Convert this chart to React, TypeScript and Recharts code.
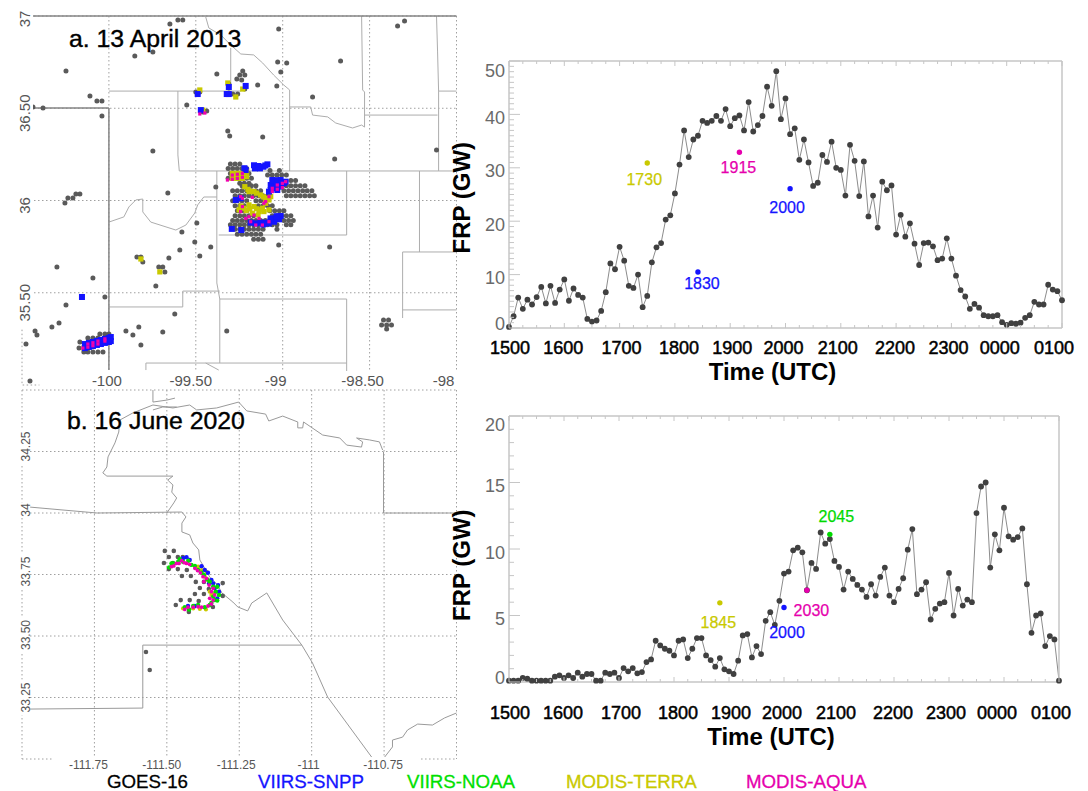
import {
  CartesianGrid,
  ComposedChart,
  Line,
  Scatter,
  ScatterChart,
  XAxis,
  YAxis,
} from "recharts";

// =============================================================================
// Time series (5 minute steps from 1500 UTC)
// =============================================================================

const frp2013 = [
  0.2, 2.2, 5.7, 3.6, 5.3, 4.4, 5.8, 7.7, 4.6, 7.9, 4.7, 7.2, 9.1, 5.1, 7.4, 6.2, 5.7, 1.7, 1.2, 1.4,
  3.2, 6.7, 12.1, 11.0, 15.2, 12.6, 7.9, 7.5, 10.0, 3.9, 6.0, 12.3, 15.1, 15.9, 20.3, 21.1, 25.2, 30.6, 37.0, 32.0,
  35.3, 36.0, 38.8, 38.4, 38.8, 39.7, 38.8, 41.0, 37.8, 39.3, 39.8, 37.0, 42.3, 36.8, 38.0, 39.7, 45.2, 41.6, 48.1, 39.1,
  43.0, 36.3, 37.4, 31.5, 35.3, 31.0, 26.6, 27.2, 32.4, 31.1, 34.9, 30.0, 29.6, 24.8, 34.3, 31.3, 24.7, 31.2, 20.9, 24.8,
  18.8, 27.4, 25.8, 26.7, 17.5, 21.2, 17.1, 19.6, 15.8, 11.8, 15.9, 16.0, 15.3, 12.7, 13.0, 16.8, 13.0, 9.8, 7.1, 5.9,
  3.6, 4.5, 3.8, 2.4, 2.2, 2.2, 2.4, 1.1, 0.6, 0.9, 0.8, 1.0, 1.9, 2.4, 4.9, 4.4, 4.4, 8.1, 7.2, 6.9, 5.2,
];

const frp2020 = [
  0.1, 0.1, 0.1, 0.3, 0.25, 0.1, 0.1, 0.1, 0.1, 0.1, 0.4, 0.5, 0.3, 0.5, 0.3, 0.7, 0.4, 0.6, 0.6, 0.1,
  0.1, 0.7, 0.6, 0.7, 0.3, 1.05, 0.8, 1.05, 0.65, 0.75, 1.5, 1.7, 3.1, 2.75, 2.5, 2.35, 2.0, 3.1, 3.2, 1.8,
  2.5, 3.3, 3.3, 2.0, 1.65, 1.15, 1.8, 0.95, 0.8, 0.6, 1.6, 3.5, 3.6, 1.85, 2.7, 2.1, 4.6, 5.25, 4.3, 6.1,
  8.15, 8.3, 9.9, 10.1, 9.75, 6.9, 8.95, 8.5, 11.25, 10.4, 10.75, 9.1, 8.65, 6.95, 8.3, 7.75, 7.3, 6.95, 6.4, 7.35,
  6.5, 7.9, 8.6, 6.5, 6.0, 7.0, 7.8, 9.95, 11.5, 6.6, 6.95, 7.5, 4.7, 5.5, 5.9, 6.0, 8.2, 5.0, 7.0, 5.75,
  6.2, 6.0, 12.7, 14.7, 15.0, 8.6, 11.1, 9.9, 13.1, 10.95, 10.7, 10.9, 11.55, 7.35, 3.7, 5.0, 5.15, 2.7, 3.45, 3.2, 0.1,
];

const hourLabels = ["1500", "1600", "1700", "1800", "1900", "2000", "2100", "2200", "2300", "0000", "0100"];
const quarterTicks = Array.from({ length: 41 }, (_, i) => i * 15);

// satellite overpass readings: minutes after 1500, FRP, label
const overpass2013 = [
  { minute: 150, frp: 30.9, label: "1730", color: "#c9c900", dx: -3, dy: 22 },
  { minute: 205, frp: 10.5, label: "1830", color: "#1414ff", dx: 4, dy: 17 },
  { minute: 250, frp: 32.9, label: "1915", color: "#e600ad", dx: -1, dy: 21 },
  { minute: 305, frp: 26.1, label: "2000", color: "#1414ff", dx: -3, dy: 24 },
];
const overpass2020 = [
  { minute: 230, frp: 5.95, label: "1845", color: "#c9c900", dx: -1.5, dy: 25 },
  { minute: 300, frp: 5.6, label: "2000", color: "#1414ff", dx: 3, dy: 30 },
  { minute: 325, frp: 6.9, label: "2030", color: "#e600ad", dx: 4.5, dy: 26 },
  { minute: 350, frp: 11.1, label: "2045", color: "#00d900", dx: 6.5, dy: -12 },
];

const labelsOffset2013: Record<number, number> = { 50: 9, 40: 3, 30: 3, 20: 3, 10: 3, 0: -5 };
const labelsOffset2020: Record<number, number> = { 20: 8, 15: 3, 10: 3, 5: 3, 0: -5 };
const hourLabelShift = [1, -1, 2, 4, 2, -2, -3, -1, -3, -7, -8];

// =============================================================================
// Map a: 13 April 2013 (lon, lat)
// =============================================================================

const stateLinesA = [
  [[-100.448, 37], [-98, 37]],
  [[-100.448, 36.501], [-100, 36.501]],
  [[-100, 36.501], [-100, 35.081]],
];

const countyLinesA = [
  [[-100, 36.593], [-99.241, 36.593]],
  [[-99.299, 36.827], [-99.299, 36.61]],
  [[-99.603, 36.593], [-99.603, 36.247], [-99.595, 36.16], [-98, 36.16]],
  [[-99.379, 36.16], [-99.379, 35.553], [-99.362, 35.466], [-99.362, 35.119]],
  [[-99.368, 35.813], [-98.632, 35.813]],
  [[-98.632, 36.16], [-98.632, 35.813]],
  [[-98.632, 35.466], [-98.632, 35.02]],
  [[-98.213, 36.16], [-98.213, 35.721]],
  [[-98.31, 35.721], [-98, 35.721]],
  [[-98.31, 35.721], [-98.31, 35.363]],
  [[-98.31, 35.407], [-98, 35.407]],
  [[-100, 35.423], [-99.575, 35.423], [-99.575, 35.509], [-99.362, 35.509]],
  [[-99.362, 35.466], [-98.632, 35.466]],
  [[-99.787, 35.081], [-99.787, 35.119], [-98.632, 35.119]],
  [[-99.443, 36.995], [-99.425, 36.935], [-99.356, 36.897], [-99.299, 36.843], [-99.241, 36.794], [-99.167, 36.789], [-99.115, 36.745], [-99.052, 36.68], [-98.994, 36.626], [-98.96, 36.599], [-98.96, 36.16]],
  [[-98.96, 36.507], [-98.839, 36.507], [-98.828, 36.463], [-98.741, 36.453], [-98.695, 36.42], [-98.598, 36.393], [-98.546, 36.409], [-98.529, 36.398]],
  [[-98.546, 37], [-98.54, 36.599], [-98.529, 36.588], [-98.529, 36.398]],
  [[-98.529, 36.463], [-98.109, 36.463]],
  [[-98.115, 37], [-98.109, 36.81], [-98.103, 36.593], [-98.103, 36.16]],
  [[-98.103, 36.593], [-98, 36.593]],
  [[-100, 35.883], [-99.914, 35.911], [-99.885, 35.965], [-99.845, 36.003], [-99.805, 36.008], [-99.805, 35.938], [-99.759, 35.883], [-99.615, 35.84], [-99.557, 35.867], [-99.506, 35.932], [-99.489, 35.976], [-99.454, 36.019], [-99.379, 36.019]],
  [[-99.443, 35.119], [-99.368, 35.081]],
];

const frameCornerA = [[-100.5, 35.3], [-100.5, 35], [-100.4, 35]];

const goesSinglesA = [
  [-99.649, 36.957], [-99.603, 36.978], [-99.575, 36.978], [-99.747, 36.805], [-99.851, 36.783], [-100.247, 36.702],
  [-100.109, 36.566], [-100.069, 36.539], [-100.04, 36.539], [-100.437, 36.507], [-100.379, 36.501], [-100.04, 36.458],
  [-99.552, 36.518], [-99.379, 36.686], [-99.747, 36.268], [-99.316, 36.377], [-99.305, 36.35], [-99.385, 36.073],
  [-99.661, 36.041], [-100.167, 36.035], [-100.19, 36.035], [-100.236, 36.014], [-100.207, 36.014], [-99.5, 36.588],
  [-99.477, 36.588], [-99.46, 36.48], [-99.437, 36.485], [-99.31, 36.631], [-99.264, 36.659], [-99.247, 36.68],
  [-99.31, 36.583], [-99.287, 36.577], [-99.259, 36.577], [-99.23, 36.702], [-99.218, 36.68], [-99.236, 36.653],
  [-99.218, 36.604], [-99.023, 36.93], [-99.029, 36.751], [-98.977, 36.745], [-99.011, 36.696], [-98.667, 36.756],
  [-99.144, 36.626], [-99.034, 36.621], [-98.828, 36.561], [-99.115, 36.344], [-98.701, 36.225], [-98.115, 36.274],
  [-98.339, 36.946], [-98.299, 36.973], [-100.253, 35.986], [-100.299, 35.64], [-100.092, 35.58], [-100.023, 35.477],
  [-100.247, 35.434], [-100.287, 35.336], [-100.328, 35.314], [-100.425, 35.293], [-100.414, 35.271], [-100.477, 35.222],
  [-100.454, 35.022], [-99.902, 35.293], [-99.828, 35.314], [-99.862, 35.271], [-99.816, 35.217], [-99.69, 35.287],
  [-99.621, 35.385], [-99.322, 35.293], [-99.839, 35.694], [-99.816, 35.694], [-99.805, 35.667], [-99.713, 35.64],
  [-99.69, 35.64], [-99.678, 35.613], [-99.73, 35.537], [-99.655, 35.688], [-99.592, 35.732], [-99.506, 35.775],
  [-99.477, 35.699], [-99.414, 35.748], [-99.58, 35.829], [-99.494, 35.878], [-100.155, 35.477], [-99.023, 35.759],
  [-98.73, 35.748], [-98.42, 35.352], [-98.391, 35.352], [-98.431, 35.325], [-98.402, 35.325], [-98.374, 35.325], [-98.402, 35.304],
];

// fire pixels of the big complexes, row by row: [lat, lons]
const goesRowsA: [number, number[]][] = [
  [36.198, [-99.301, -99.274, -99.247]],
  [36.174, [-99.314, -99.288, -99.261, -99.234, -99.207]],
  [36.162, [-99.073, -99.019]],
  [36.147, [-99.301, -99.274, -99.247, -99.221, -99.194]],
  [36.138, [-99.087, -99.06, -99.033, -99.006, -98.979]],
  [36.12, [-99.314, -99.288, -99.261, -99.234, -99.207, -99.18]],
  [36.108, [-98.953, -98.926]],
  [36.093, [-99.247, -99.221, -99.194]],
  [36.08, [-99.234, -99.207, -99.18, -99.154, -98.979, -98.953, -98.926, -98.899, -98.872]],
  [36.053, [-99.288, -99.261, -99.234, -99.207, -99.18, -99.154, -99.127, -98.993, -98.966, -98.939, -98.912, -98.885, -98.859, -98.832]],
  [36.026, [-99.274, -99.247, -99.221, -99.194, -99.167, -99.14, -99.113, -99.087, -98.979, -98.953, -98.926, -98.899, -98.872, -98.845, -98.818]],
  [35.999, [-99.288, -99.261, -99.234, -99.207, -99.154, -99.127, -99.1]],
  [35.972, [-99.274, -99.247, -99.221, -99.14, -99.113, -99.087, -99.06]],
  [35.945, [-99.261, -99.234, -99.207, -99.073, -99.046, -99.019, -98.993]],
  [35.918, [-99.274, -99.247, -99.221, -99.194, -99.167, -99.06, -99.033, -99.006, -98.979, -98.953]],
  [35.891, [-99.288, -99.261, -99.234, -99.207, -99.18, -99.154, -99.127, -99.1, -98.993, -98.966, -98.939]],
  [35.869, [-99.301, -99.274, -99.247, -99.221, -99.194, -99.167, -99.14, -99.087, -99.06, -99.033, -98.979, -98.953]],
  [35.844, [-99.274, -99.247, -99.221, -99.194, -99.167, -99.14, -99.113, -99.033]],
  [35.817, [-99.261, -99.234, -99.207, -99.18, -99.154, -99.127]],
  [35.79, [-99.167, -99.14, -99.113]],
  [35.276, [-100.052, -100.023, -100]],
  [35.255, [-100.121, -100.092, -100.063]],
  [35.233, [-100.167]],
  [35.201, [-100.172]],
  [35.179, [-100.144, -100.121, -100.092, -100.063, -100.034]],
];

const yellowA = [
  [-99.29, 36.147], [-99.261, 36.147], [-99.232, 36.147], [-99.207, 36.156], [-99.29, 36.12], [-99.261, 36.12], [-99.232, 36.12], [-99.207, 36.129],
  [-99.275, 36.134], [-99.246, 36.134], [-99.22, 36.14], [-99.218, 36.075], [-99.2, 36.06], [-99.18, 36.05], [-99.15, 36.04], [-99.11, 36.02],
  [-99.194, 36.048], [-99.165, 36.048], [-99.127, 36.03], [-99.098, 35.985], [-99.079, 36.003], [-99.069, 36.021], [-99.251, 35.949], [-99.223, 35.958],
  [-99.194, 35.976], [-99.165, 35.967], [-99.136, 35.94], [-99.108, 35.94], [-99.079, 35.949], [-99.117, 35.958], [-99.175, 35.931], [-99.142, 35.921], [-99.098, 36.012],
  [-99.15, 35.955], [-99.125, 35.95], [-99.24, 35.97], [-99.21, 35.945], [-99.19, 35.955],
  [-99.477, 36.599], [-99.46, 36.49], [-99.316, 36.637], [-99.27, 36.561], [-99.23, 36.604], [-99.816, 35.683], [-99.707, 35.613], [-100.144, 35.2],
];

const blueA = [
  [-99.165, 36.191], [-99.15, 36.18], [-99.131, 36.174], [-99.111, 36.183], [-99.088, 36.196], [-99.16, 36.174], [-99.14, 36.187], [-99.1, 36.19],
  [-99.069, 36.057], [-99.046, 36.066], [-99.021, 36.075], [-98.993, 36.093], [-99.069, 36.084], [-99.041, 36.102], [-99.012, 36.111], [-98.983, 36.102], [-99.05, 36.093], [-99.031, 36.057], [-99.079, 36.048], [-99.06, 36.111], [-99.021, 36.093], [-99.05, 36.075],
  [-99.03, 36.11], [-99.008, 36.09], [-99.06, 36.07], [-99.035, 36.082],
  [-99.184, 35.88], [-99.155, 35.876], [-99.127, 35.88], [-99.098, 35.88], [-99.069, 35.891], [-99.041, 35.903], [-99.012, 35.916], [-99.021, 35.898], [-99.05, 35.885], [-99.07, 35.903], [-99.035, 35.915], [-99.08, 35.875], [-99.112, 35.87],
  [-99.293, 35.846], [-99.238, 35.84], [-99.27, 36.003], [-99.242, 36.012], [-99.213, 36.165], [-99.22, 36.175],
  [-99.489, 36.577], [-99.471, 36.49], [-99.31, 36.615], [-99.322, 36.577], [-99.31, 36.577], [-99.213, 36.621], [-100.155, 35.477],
  [-100.138, 35.222], [-100.115, 35.228], [-100.092, 35.233], [-100.069, 35.239], [-100.046, 35.244], [-100.023, 35.25], [-100, 35.255], [-99.989, 35.26],
  [-100.138, 35.2], [-100.115, 35.206], [-100.092, 35.211], [-100.069, 35.217], [-100.046, 35.222], [-100.023, 35.228], [-100, 35.233], [-99.989, 35.238],
];

const magentaA = [
  [-99.29, 36.138], [-99.29, 36.115], [-99.261, 36.142], [-99.261, 36.12], [-99.232, 36.147], [-99.232, 36.126], [-99.318, 36.111],
  [-99.06, 36.066], [-99.06, 36.048], [-99.031, 36.084], [-99.031, 36.061], [-99.002, 36.093], [-99.002, 36.07], [-98.983, 36.102],
  [-99.242, 36.021], [-99.232, 36.012], [-99.175, 36.017], [-99.098, 35.994], [-99.108, 35.985], [-99.079, 36.021],
  [-99.213, 35.903], [-99.194, 35.912], [-99.165, 35.921], [-99.136, 35.903], [-99.184, 35.885], [-99.155, 35.867], [-99.117, 35.867], [-99.079, 35.885], [-99.242, 35.94], [-99.232, 35.967],
  [-99.477, 36.469], [-99.448, 36.474],
  [-100.15, 35.2], [-100.121, 35.205], [-100.121, 35.222], [-100.092, 35.213], [-100.092, 35.229], [-100.063, 35.222], [-100.063, 35.238], [-100.023, 35.238], [-100.023, 35.25],
];

const xTicksA = [-100, -99.5, -99, -98.5, -98];
const yTicksA = [35.5, 36, 36.5, 37];
const xLabelsA = ["-100", "-99.50", "-99", "-98.50", "-98"];
const yLabelsA = ["35.50", "36", "36.50", "37"];
const xShiftA = [-2, -5, -7, -7, -13];
const yShiftA = [10, 5, 5, 3];

// =============================================================================
// Map b: 16 June 2020 (lon, lat)
// =============================================================================

const linesB = [
  [[-111.721, 34.163], [-111.707, 34.187], [-111.703, 34.228], [-111.679, 34.285], [-111.666, 34.329], [-111.662, 34.378], [-111.617, 34.407], [-111.548, 34.439], [-111.479, 34.427], [-111.421, 34.439], [-111.397, 34.419], [-111.328, 34.427], [-111.252, 34.451], [-111.224, 34.415], [-111.159, 34.402], [-111.148, 34.374], [-111.1, 34.394], [-111.048, 34.37], [-111.048, 34.346], [-111.031, 34.346], [-111.028, 34.37], [-110.962, 34.317], [-110.903, 34.305], [-110.879, 34.276], [-110.828, 34.268], [-110.824, 34.289], [-110.845, 34.305], [-110.8, 34.297], [-110.766, 34.289], [-110.755, 34.256]],
  [[-111.548, 34.5], [-111.548, 34.451], [-111.5, 34.459], [-111.472, 34.467]],
  [[-111.548, 34.419], [-111.514, 34.431], [-111.466, 34.431]],
  [[-110.752, 34.248], [-110.752, 34], [-110.5, 34]],
  [[-111.721, 34.163], [-111.707, 34.15], [-111.479, 34.15], [-111.497, 34.134], [-111.479, 34.114], [-111.483, 34.085], [-111.466, 34.061], [-111.476, 34.041], [-111.5, 34]],
  [[-111.972, 34.024], [-111.741, 34], [-111.448, 34.004], [-111.434, 33.984], [-111.448, 33.959], [-111.448, 33.923], [-111.421, 33.911], [-111.41, 33.878], [-111.39, 33.85], [-111.386, 33.809], [-111.376, 33.789], [-111.352, 33.74], [-111.324, 33.707], [-111.31, 33.675], [-111.272, 33.638], [-111.255, 33.618], [-111.221, 33.602], [-111.207, 33.634], [-111.155, 33.675], [-111.1, 33.565], [-111.034, 33.463], [-110.997, 33.39], [-110.945, 33.252], [-110.793, 33.008]],
  [[-111.034, 33.463], [-111.583, 33.463], [-111.583, 33.207], [-111.972, 33.203]],
  [[-110.748, 33.008], [-110.721, 33.049], [-110.721, 33.077], [-110.686, 33.089], [-110.669, 33.118], [-110.634, 33.142], [-110.583, 33.138], [-110.541, 33.167], [-110.5, 33.187]],
];

const frameBitsB = [
  [[-112, 33], [-111.86, 33]],
  [[-110.65, 33], [-110.5, 33]],
];

const goesB = [
  [-111.507, 33.846], [-111.476, 33.846], [-111.493, 33.821], [-111.462, 33.821], [-111.445, 33.821], [-111.51, 33.797],
  [-111.479, 33.797], [-111.493, 33.772], [-111.462, 33.772], [-111.431, 33.768], [-111.448, 33.744], [-111.417, 33.744],
  [-111.4, 33.72], [-111.386, 33.695], [-111.355, 33.691], [-111.372, 33.72], [-111.403, 33.671], [-111.372, 33.671],
  [-111.307, 33.715], [-111.307, 33.663], [-111.452, 33.646], [-111.421, 33.646], [-111.39, 33.642], [-111.469, 33.626],
  [-111.424, 33.598], [-111.341, 33.618], [-111.572, 33.435], [-111.559, 33.362],
];

const greenB = [
  [-111.492, 33.779], [-111.478, 33.795], [-111.461, 33.802], [-111.444, 33.802], [-111.415, 33.789], [-111.392, 33.768], [-111.372, 33.748], [-111.352, 33.721],
  [-111.326, 33.7], [-111.32, 33.667], [-111.335, 33.646], [-111.346, 33.635], [-111.438, 33.617], [-111.409, 33.622], [-111.369, 33.617],
  [-111.484, 33.795], [-111.455, 33.812], [-111.426, 33.806], [-111.403, 33.785], [-111.38, 33.757], [-111.361, 33.73], [-111.34, 33.7], [-111.331, 33.68],
  [-111.34, 33.66], [-111.326, 33.644], [-111.352, 33.626], [-111.392, 33.626], [-111.423, 33.608],
];
const magentaB = [
  [-111.484, 33.782], [-111.467, 33.795], [-111.449, 33.806], [-111.432, 33.795], [-111.403, 33.775], [-111.384, 33.757], [-111.363, 33.734], [-111.372, 33.721],
  [-111.34, 33.694], [-111.335, 33.667], [-111.352, 33.653], [-111.346, 33.63], [-111.427, 33.617], [-111.392, 33.619], [-111.438, 33.608],
  [-111.476, 33.785], [-111.458, 33.795], [-111.44, 33.798], [-111.421, 33.791], [-111.394, 33.766], [-111.375, 33.741], [-111.354, 33.707], [-111.346, 33.68],
  [-111.34, 33.646], [-111.358, 33.622], [-111.409, 33.617], [-111.38, 33.617],
];
const blueB = [
  [-111.432, 33.82], [-111.421, 33.809], [-111.38, 33.784], [-111.358, 33.757], [-111.34, 33.714], [-111.323, 33.707], [-111.427, 33.622], [-111.354, 33.714], [-111.326, 33.653],
  [-111.444, 33.816], [-111.369, 33.768], [-111.346, 33.728], [-111.335, 33.694], [-111.32, 33.68], [-111.403, 33.622],
];
const yellowB = [
  [-111.444, 33.612], [-111.365, 33.608], [-111.38, 33.768], [-111.363, 33.761], [-111.358, 33.728], [-111.352, 33.68], [-111.346, 33.667], [-111.409, 33.612],
  [-111.392, 33.782], [-111.369, 33.741], [-111.34, 33.673], [-111.386, 33.61],
];

const xTicksB = [-111.75, -111.5, -111.25, -111, -110.75];
const yTicksB = [33.25, 33.5, 33.75, 34, 34.25];
const xLabelsB = ["-111.75", "-111.50", "-111.25", "-111", "-110.75"];
const yLabelsB = ["33.25", "33.50", "33.75", "34", "34.25"];
const xShiftB = [-6, -5, -3, -3, -1];
const yShiftB = [0, -1, -3, -3, -5];

const legendItems = [
  { name: "GOES-16", color: "#000000", left: 107 },
  { name: "VIIRS-SNPP", color: "#1414ff", left: 258 },
  { name: "VIIRS-NOAA", color: "#00e000", left: 407 },
  { name: "MODIS-TERRA", color: "#c9c900", left: 566 },
  { name: "MODIS-AQUA", color: "#e600ad", left: 746 },
];

// =============================================================================
// Helpers
// =============================================================================

const FONT = '"Liberation Sans", Arial, sans-serif';
const FRAME = "#c6c6c6";
const DOT = "#404040";
const GOES = "#5a5a5a";

const toPoints = (pairs: number[][]) => pairs.map(([lon, lat]) => ({ lon, lat }));
const fromRows = (rows: [number, number[]][]) =>
  rows.flatMap(([lat, lons]) => lons.map((lon) => ({ lon, lat })));

const noShape = () => <g />;
const circleShape = (r: number, fill: string) => (p: any) =>
  <circle cx={p.cx} cy={p.cy} r={r} fill={fill} />;
const squareShape = (r: number, fill: string) => (p: any) =>
  <rect x={p.cx - r} y={p.cy - r} width={2 * r} height={2 * r} fill={fill} />;

function boundary(pairs: number[][], key: string, stroke: string, width = 1, dash?: string) {
  return (
    <Scatter
      key={key}
      data={toPoints(pairs)}
      line={{ stroke, strokeWidth: width, strokeDasharray: dash }}
      shape={noShape}
      isAnimationActive={false}
    />
  );
}

function marks(pairs: { lon: number; lat: number }[], key: string, shape: any) {
  return <Scatter key={key} data={pairs} shape={shape} isAnimationActive={false} />;
}

// =============================================================================
// FRP panels
// =============================================================================

interface PanelProps {
  values: number[];
  overpasses: typeof overpass2013;
  yMax: number;
  majorStep: number;
  labelOffset: Record<number, number>;
  style: React.CSSProperties;
  topHeight: number;
  bottomHeight: number;
  rightWidth: number;
  hourDrop: number;
  titleOffset: number;
  yTitleShift: number;
}

function FrpPanel({
  values,
  overpasses,
  yMax,
  majorStep,
  labelOffset,
  style,
  topHeight,
  bottomHeight,
  rightWidth,
  hourDrop,
  titleOffset,
  yTitleShift,
}: PanelProps) {
  const rows = values.map((frp, i) => ({ minute: i * 5, frp }));
  const yTicks = Array.from({ length: yMax + 1 }, (_, i) => i);

  const bottomTick = ({ x, y, payload }: any) => {
    const major = payload.value % 60 === 0;
    const hour = payload.value / 60;
    return (
      <g>
        <line x1={x} x2={x} y1={y} y2={y - (major ? 5 : 3)} stroke={FRAME} />
        {major && (
          <text
            x={x + hourLabelShift[hour]}
            y={y + hourDrop}
            textAnchor="middle"
            fontFamily={FONT}
            fontSize={18}
            stroke="#000"
            strokeWidth={0.5}
          >
            {hourLabels[hour]}
          </text>
        )}
      </g>
    );
  };
  const topTick = ({ x, y, payload }: any) => (
    <line x1={x} x2={x} y1={y} y2={y + (payload.value % 60 === 0 ? 5 : 3)} stroke={FRAME} />
  );
  const leftTick = ({ x, y, payload }: any) => {
    const major = payload.value % majorStep === 0;
    return (
      <g>
        <line x1={x} x2={x + (major ? 11 : 5)} y1={y} y2={y} stroke={FRAME} />
        {major && (
          <text x={x - 4} y={y + labelOffset[payload.value] + 6.5} textAnchor="end" fontFamily={FONT} fontSize={18} fill="#6a6a6a">
            {payload.value}
          </text>
        )}
      </g>
    );
  };
  const rightTick = ({ x, y, payload }: any) => (
    <line x1={x} x2={x - (payload.value % majorStep === 0 ? 11 : 5)} y1={y} y2={y} stroke={FRAME} />
  );

  return (
    <ComposedChart
      width={648}
      height={350}
      data={rows}
      margin={{ top: 0, right: 0, bottom: 0, left: 0 }}
      style={{ position: "absolute", ...style }}
    >
      <XAxis
        dataKey="minute"
        type="number"
        domain={[0, 600]}
        ticks={quarterTicks}
        interval={0}
        height={bottomHeight}
        tick={bottomTick}
        tickLine={false}
        tickSize={0}
        tickMargin={0}
        axisLine={{ stroke: FRAME, strokeWidth: 1.5 }}
        label={{
          value: "Time (UTC)",
          position: "insideBottom",
          offset: titleOffset,
          dx: -13,
          style: { fontFamily: FONT, fontSize: 24, fontWeight: 700, fill: "#000" },
        }}
      />
      <XAxis
        xAxisId="top"
        orientation="top"
        dataKey="minute"
        type="number"
        domain={[0, 600]}
        ticks={quarterTicks}
        interval={0}
        height={topHeight}
        tick={topTick}
        tickLine={false}
        tickSize={0}
        tickMargin={0}
        axisLine={{ stroke: FRAME, strokeWidth: 1.5 }}
      />
      <YAxis
        type="number"
        domain={[0, yMax]}
        ticks={yTicks}
        interval={0}
        width={69}
        tick={leftTick}
        tickLine={false}
        tickSize={0}
        tickMargin={0}
        axisLine={{ stroke: FRAME, strokeWidth: 1.5 }}
        label={{
          value: "FRP (GW)",
          angle: -90,
          position: "insideLeft",
          offset: 21,
          dy: yTitleShift,
          style: { fontFamily: FONT, fontSize: 24, fontWeight: 700, fill: "#000" },
        }}
      />
      <YAxis
        yAxisId="right"
        orientation="right"
        type="number"
        domain={[0, yMax]}
        ticks={yTicks}
        interval={0}
        width={rightWidth}
        tick={rightTick}
        tickLine={false}
        tickSize={0}
        tickMargin={0}
        axisLine={{ stroke: FRAME, strokeWidth: 1.5 }}
      />
      <Line
        dataKey="frp"
        type="linear"
        stroke="#8c8c8c"
        strokeWidth={1}
        dot={{ r: 2.9, fill: DOT, stroke: "none", fillOpacity: 1 }}
        activeDot={false}
        isAnimationActive={false}
      />
      {overpasses.map((o) => (
        <Line
          key={o.label}
          data={[o]}
          dataKey="frp"
          stroke="none"
          activeDot={false}
          isAnimationActive={false}
          dot={(p: any) => (
            <g key={o.label}>
              <circle cx={p.cx} cy={p.cy} r={2.7} fill={o.color} />
              <text
                x={p.cx + o.dx}
                y={p.cy + o.dy}
                textAnchor="middle"
                fontFamily={FONT}
                fontSize={16}
                fill={o.color}
                stroke={o.color}
                strokeWidth={0.25}
              >
                {o.label}
              </text>
            </g>
          )}
        />
      ))}
    </ComposedChart>
  );
}

// =============================================================================
// Map ticks
// =============================================================================

const mapXTick = (labels: string[], shifts: number[], size: number, dy: number, boxW: number) => ({ x, y, index }: any) => (
  <g>
    <rect x={x + shifts[index] - boxW / 2} y={y + dy - size} width={boxW} height={size + 4} fill="#fff" />
    <text x={x + shifts[index]} y={y + dy} textAnchor="middle" fontFamily={FONT} fontSize={size} fill="#555">
      {labels[index]}
    </text>
  </g>
);

const mapYTick = (labels: string[], shifts: number[], size: number) => ({ x, y, index }: any) => {
  const cy = y + shifts[index];
  const baseX = x + 8;
  const half = (labels[index].length * size * 0.56) / 2 + 1;
  return (
    <g>
      <rect x={x - 6} y={cy - half} width={size + 2} height={2 * half} fill="#fff" />
      <text
        x={baseX}
        y={cy}
        textAnchor="middle"
        transform={`rotate(-90 ${baseX} ${cy})`}
        fontFamily={FONT}
        fontSize={size}
        fill="#555"
      >
        {labels[index]}
      </text>
    </g>
  );
};

// =============================================================================
// Component
// =============================================================================

export default function App() {
  const goesA = [...toPoints(goesSinglesA), ...fromRows(goesRowsA)];

  return (
    <div style={{ position: "absolute", left: 0, top: 0, width: 1088, height: 791, background: "#fff", overflow: "hidden" }}>
      {/* map a */}
      <ScatterChart
        width={470}
        height={400}
        margin={{ top: 16, right: 13.5, bottom: 0, left: 0 }}
        style={{ position: "absolute", left: 0, top: 0 }}
      >
        <CartesianGrid
          stroke="#a0a0a0"
          strokeDasharray="1.5 2.5"
          horizontalValues={yTicksA}
          verticalValues={xTicksA}
        />
        <XAxis
          dataKey="lon"
          type="number"
          domain={[-100.5, -98]}
          ticks={xTicksA}
          interval={0}
          height={15}
          axisLine={false}
          tickLine={false}
          tickSize={0}
          tickMargin={0}
          tick={mapXTick(xLabelsA, xShiftA, 15, 1, 60)}
        />
        <YAxis
          dataKey="lat"
          type="number"
          domain={[35, 37]}
          ticks={yTicksA}
          interval={0}
          width={22}
          axisLine={false}
          tickLine={false}
          tickSize={0}
          tickMargin={0}
          tick={mapYTick(yLabelsA, yShiftA, 15)}
        />
        {boundary(frameCornerA, "frame", "#a0a0a0", 1, "1.5 2.5")}
        {countyLinesA.map((l, i) => boundary(l, `county${i}`, "#adadad"))}
        {stateLinesA.map((l, i) => boundary(l, `state${i}`, "#858585", 1.5))}
        {marks(goesA, "goes", circleShape(2.5, GOES))}
        {marks(toPoints(yellowA), "yellow", squareShape(2.6, "#c9c900"))}
        {marks(toPoints(blueA), "blue", squareShape(3, "#1414ff"))}
        {marks(toPoints(magentaA), "magenta", squareShape(1.6, "#f000b0"))}
      </ScatterChart>

      {/* map b */}
      <ScatterChart
        width={470}
        height={400}
        margin={{ top: 10, right: 13.5, bottom: 0, left: 0 }}
        style={{ position: "absolute", left: 0, top: 380 }}
      >
        <CartesianGrid
          stroke="#a0a0a0"
          strokeDasharray="1.5 2.5"
          horizontalValues={[...yTicksB, 34.5]}
          verticalValues={[-112, ...xTicksB, -110.5]}
        />
        <XAxis
          dataKey="lon"
          type="number"
          domain={[-112, -110.5]}
          ticks={xTicksB}
          interval={0}
          height={21}
          axisLine={false}
          tickLine={false}
          tickSize={0}
          tickMargin={0}
          tick={mapXTick(xLabelsB, xShiftB, 12, 10, 73)}
        />
        <YAxis
          dataKey="lat"
          type="number"
          domain={[33, 34.5]}
          ticks={yTicksB}
          interval={0}
          width={22}
          axisLine={false}
          tickLine={false}
          tickSize={0}
          tickMargin={0}
          tick={mapYTick(yLabelsB, yShiftB, 12)}
        />
        {frameBitsB.map((l, i) => boundary(l, `frame${i}`, "#a0a0a0", 1, "1.5 2.5"))}
        {linesB.map((l, i) => boundary(l, `line${i}`, "#9a9a9a"))}
        {marks(toPoints(goesB), "goes", circleShape(2.3, GOES))}
        {marks(toPoints(yellowB), "yellow", circleShape(2.1, "#c9c900"))}
        {marks(toPoints(blueB), "blue", circleShape(2.2, "#1414ff"))}
        {marks(toPoints(greenB), "green", circleShape(2.2, "#00e000"))}
        {marks(toPoints(magentaB), "magenta", circleShape(1.9, "#f000b0"))}
      </ScatterChart>

      {/* time series */}
      <FrpPanel
        values={frp2013}
        overpasses={overpass2013}
        yMax={50}
        majorStep={10}
        labelOffset={labelsOffset2013}
        style={{ left: 440, top: 40 }}
        topHeight={21}
        bottomHeight={62}
        rightWidth={26}
        hourDrop={26}
        titleOffset={10}
        yTitleShift={59}
      />
      <FrpPanel
        values={frp2020}
        overpasses={overpass2020}
        yMax={20}
        majorStep={5}
        labelOffset={labelsOffset2020}
        style={{ left: 440, top: 400 }}
        topHeight={16}
        bottomHeight={68}
        rightWidth={29}
        hourDrop={37}
        titleOffset={5}
        yTitleShift={72}
      />

      {/* panel titles */}
      <div style={{ position: "absolute", left: 69, top: 25, fontFamily: FONT, fontSize: 24.8, color: "#000", whiteSpace: "nowrap", WebkitTextStroke: "0.4px #000" }}>
        a. 13 April 2013
      </div>
      <div style={{ position: "absolute", left: 67, top: 407, fontFamily: FONT, fontSize: 24.8, color: "#000", whiteSpace: "nowrap", WebkitTextStroke: "0.4px #000" }}>
        b. 16 June 2020
      </div>

      {/* shared legend */}
      {legendItems.map((item) => (
        <div
          key={item.name}
          style={{
            position: "absolute",
            left: item.left,
            top: 771,
            fontFamily: FONT,
            fontSize: 18.7,
            color: item.color,
            whiteSpace: "nowrap",
            WebkitTextStroke: `0.3px ${item.color}`,
          }}
        >
          {item.name}
        </div>
      ))}
    </div>
  );
}
